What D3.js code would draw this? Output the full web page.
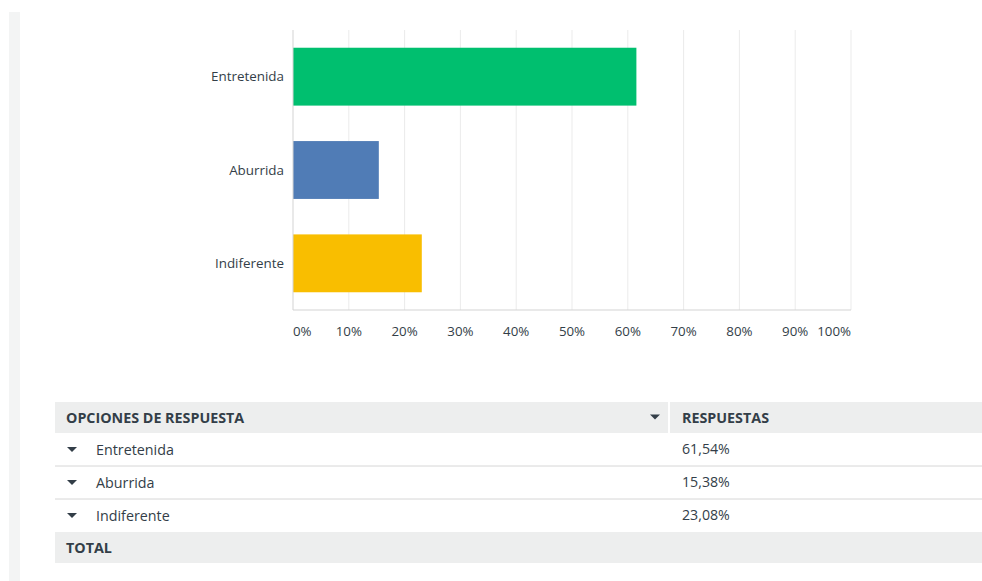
<!DOCTYPE html>
<html>
<head>
<meta charset="utf-8">
<script src="https://cdn.jsdelivr.net/npm/d3@7"></script>
<style>
  body { margin: 0; background: #fff; }
  svg text { font-family: "Open Sans", "Noto Sans", sans-serif; }
</style>
</head>
<body>
<svg id="chart" width="982" height="581"></svg>
<script>
// data
const categories = ["Entretenida", "Aburrida", "Indiferente"];
const values = [61.54, 15.38, 23.08];
const valueLabels = ["61,54%", "15,38%", "23,08%"];
const barColors = ["#00bf6f", "#507cb6", "#f9be00"];
const tickValues = [0, 10, 20, 30, 40, 50, 60, 70, 80, 90, 100];
const headers = ["OPCIONES DE RESPUESTA", "RESPUESTAS"];
const totalLabel = "TOTAL";

const svg = d3.select("#chart");

// left grey strip
svg.append("rect")
    .attr("x", 9).attr("y", 12)
    .attr("width", 11).attr("height", 581)
    .attr("fill", "#f3f4f4");

// ---- bar chart ----
const plot = { left: 293, right: 851, top: 30, bottom: 310 };

const x = d3.scaleLinear().domain([0, 100]).range([plot.left, plot.right]);
const y = d3.scaleBand().domain(categories).range([plot.top, plot.bottom]).paddingInner(0.38).paddingOuter(0.19);

const g = svg.append("g");

// vertical gridlines
g.selectAll(".grid")
    .data(tickValues.slice(1))
    .enter()
    .append("line")
    .attr("class", "grid")
    .attr("x1", d => x(d)).attr("x2", d => x(d))
    .attr("y1", plot.top).attr("y2", plot.bottom)
    .attr("stroke", "#ebebeb")
    .attr("stroke-width", 1);

// bars
g.selectAll(".bar")
    .data(categories)
    .enter()
    .append("rect")
    .attr("class", "bar")
    .attr("x", x(0))
    .attr("y", d => y(d))
    .attr("width", (d, i) => x(values[i]) - x(0))
    .attr("height", y.bandwidth())
    .attr("fill", (d, i) => barColors[i]);

// axis lines
g.append("line")
    .attr("x1", plot.left).attr("x2", plot.left)
    .attr("y1", plot.top).attr("y2", plot.bottom)
    .attr("stroke", "#d3d3d3");
g.append("line")
    .attr("x1", plot.left).attr("x2", plot.right)
    .attr("y1", plot.bottom).attr("y2", plot.bottom)
    .attr("stroke", "#d3d3d3");

// category labels
g.selectAll(".cat")
    .data(categories)
    .enter()
    .append("text")
    .attr("class", "cat")
    .attr("x", plot.left - 9)
    .attr("y", d => y(d) + y.bandwidth() / 2)
    .attr("dy", "0.35em")
    .attr("text-anchor", "end")
    .attr("font-size", 13.4)
    .attr("fill", "#333e48")
    .text(d => d);

// tick labels
g.selectAll(".tick-label")
    .data(tickValues)
    .enter()
    .append("text")
    .attr("class", "tick-label")
    .attr("x", d => x(d))
    .attr("y", 331)
    .attr("dy", "0.35em")
    .attr("text-anchor", d => d === 0 ? "start" : (d === 100 ? "end" : "middle"))
    .attr("font-size", 13.3)
    .attr("fill", "#333e48")
    .text(d => d + "%");

// ---- table ----
const table = { left: 55, right: 982, split: 669, headTop: 402, headH: 31, rowH: 33 };
const t = svg.append("g");

// header
t.append("rect")
    .attr("x", table.left).attr("y", table.headTop)
    .attr("width", table.right - table.left).attr("height", table.headH)
    .attr("fill", "#edeeee");
t.append("line")
    .attr("x1", table.split).attr("x2", table.split)
    .attr("y1", table.headTop).attr("y2", table.headTop + table.headH)
    .attr("stroke", "#fff").attr("stroke-width", 2);
t.selectAll(".head")
    .data(headers)
    .enter()
    .append("text")
    .attr("x", (d, i) => i === 0 ? 66 : 682)
    .attr("y", table.headTop + table.headH / 2)
    .attr("dy", "0.35em")
    .attr("font-size", 14.3)
    .attr("font-weight", "bold")
    .attr("fill", "#333e48")
    .text(d => d);

// sort arrow in header
function caret(sel, cx, cy) {
    sel.append("path")
        .attr("d", `M${cx - 5},${cy - 2.5}L${cx + 5},${cy - 2.5}L${cx},${cy + 2.5}Z`)
        .attr("fill", "#333e48");
}
caret(t, 655, table.headTop + table.headH / 2 - 0.5);

// body rows
const rowTop = table.headTop + table.headH;
const rows = t.selectAll(".row")
    .data(categories)
    .enter()
    .append("g")
    .attr("class", "row")
    .attr("transform", (d, i) => `translate(0,${rowTop + i * table.rowH})`);

rows.filter((d, i) => i > 0)
    .append("line")
    .attr("x1", table.left).attr("x2", table.right)
    .attr("y1", 0).attr("y2", 0)
    .attr("stroke", "#d6d6d6");

rows.each(function() { caret(d3.select(this), 72, table.rowH / 2); });

rows.append("text")
    .attr("x", 96)
    .attr("y", table.rowH / 2)
    .attr("dy", "0.35em")
    .attr("font-size", 14.3)
    .attr("fill", "#333e48")
    .text(d => d);

rows.append("text")
    .attr("x", 682)
    .attr("y", table.rowH / 2)
    .attr("dy", "0.35em")
    .attr("font-size", 14.2)
    .attr("fill", "#333e48")
    .text((d, i) => valueLabels[i]);

// total row
const totalTop = rowTop + categories.length * table.rowH;
t.append("rect")
    .attr("x", table.left).attr("y", totalTop)
    .attr("width", table.right - table.left).attr("height", 31)
    .attr("fill", "#edeeee");
t.append("text")
    .attr("x", 66)
    .attr("y", totalTop + 15.5)
    .attr("dy", "0.35em")
    .attr("font-size", 14.3)
    .attr("font-weight", "bold")
    .attr("fill", "#333e48")
    .text(totalLabel);
</script>
</body>
</html>
